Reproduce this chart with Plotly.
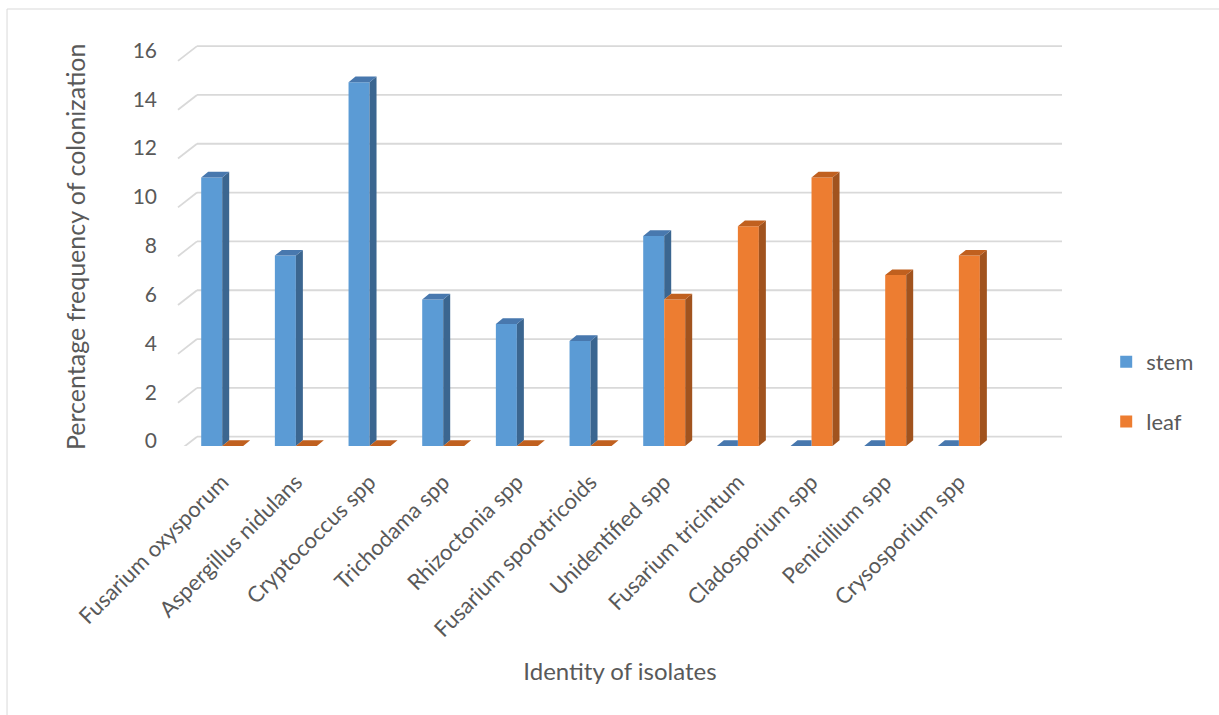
import plotly.graph_objects as go

categories = ["Fusarium oxysporum", "Aspergillus nidulans", "Cryptococcus spp", "Trichodama spp",
              "Rhizoctonia spp", "Fusarium sporotricoids", "Unidentified spp", "Fusarium tricintum",
              "Cladosporium spp", "Penicillium spp", "Crysosporium spp"]
stem = [11, 7.8, 14.9, 6, 5, 4.3, 8.6, 0, 0, 0, 0]
leaf = [0, 0, 0, 0, 0, 0, 6, 9, 11, 7, 7.8]
y_ticks = [0, 2, 4, 6, 8, 10, 12, 14, 16]

# geometry / style constants
W = 0.285    # bar width (category units)
DX = 0.095   # 3D depth offset along x (category units)
DY = 0.233   # 3D depth offset along y (value units)
FONT = "Lato"
TXT = "#595959"
GRID = "#d9d9d9"

STEM_FRONT, STEM_TOP, STEM_SIDE = "#5B9BD5", "#4878AE", "#3B6690"
LEAF_FRONT, LEAF_TOP, LEAF_SIDE = "#ED7D31", "#C0601F", "#A1531E"

pos = list(range(len(categories)))


def add_poly(xs, ys, pts):
    for px, py in pts:
        xs.append(px)
        ys.append(py)
    xs.append(pts[0][0]); ys.append(pts[0][1])
    xs.append(None); ys.append(None)


ss_x, ss_y, st_x, st_y = [], [], [], []
ls_x, ls_y, lt_x, lt_y = [], [], [], []
for c, s, l in zip(pos, stem, leaf):
    # stem side face (clipped where the adjacent leaf bar hides it)
    if s > 0 and s > l:
        add_poly(ss_x, ss_y, [(c, l), (c, s), (c + DX, s + DY), (c + DX, l + DY)])
    # stem top face
    if s == 0 and l > 0:
        add_poly(st_x, st_y, [(c - W, 0), (c, 0), (c, DY), (c - W + DX, DY)])
    else:
        add_poly(st_x, st_y, [(c - W, s), (c, s), (c + DX, s + DY), (c - W + DX, s + DY)])
    # leaf side face
    if l > 0:
        add_poly(ls_x, ls_y, [(c + W, 0), (c + W, l), (c + W + DX, l + DY), (c + W + DX, DY)])
    # leaf top face
    add_poly(lt_x, lt_y, [(c, l), (c + W, l), (c + W + DX, l + DY), (c + DX, l + DY)])

fig = go.Figure()

fig.add_trace(go.Bar(x=pos, y=stem, name="stem", offset=-W, width=W,
                     marker=dict(color=STEM_FRONT, line=dict(width=0)),
                     legendgroup="stem", hovertext=categories))
fig.add_trace(go.Bar(x=pos, y=leaf, name="leaf", offset=0, width=W,
                     marker=dict(color=LEAF_FRONT, line=dict(width=0)),
                     legendgroup="leaf", hovertext=categories))

for xs, ys, col in [(ss_x, ss_y, STEM_SIDE), (st_x, st_y, STEM_TOP),
                    (ls_x, ls_y, LEAF_SIDE), (lt_x, lt_y, LEAF_TOP)]:
    fig.add_trace(go.Scatter(x=xs, y=ys, mode="lines", fill="toself", fillcolor=col,
                             line=dict(width=0, color=col), showlegend=False,
                             hoverinfo="skip"))

# back-wall gridlines with the short perspective segments on the left
shapes = []
for v in y_ticks:
    shapes.append(dict(type="line", xref="paper", yref="y", ysizemode="pixel", yanchor=v,
                       x0=0.0215, x1=1.0, y0=9.3, y1=9.3,
                       line=dict(color=GRID, width=1.8), layer="below"))
    shapes.append(dict(type="line", xref="paper", yref="y", ysizemode="pixel", yanchor=v,
                       x0=0.0, x1=0.0215, y0=-5.5, y1=9.3,
                       line=dict(color=GRID, width=1.8), layer="below"))
# chart-area border
shapes.append(dict(type="rect", xref="paper", yref="paper", x0=-0.1934, x1=1.5, y0=-1.0, y1=1.053,
                   line=dict(color=GRID, width=1), fillcolor="rgba(0,0,0,0)", layer="below"))

fig.update_layout(
    width=1219, height=715,
    margin=dict(l=178, r=157, t=31, b=269),
    paper_bgcolor="white", plot_bgcolor="white",
    barmode="overlay",
    font=dict(family=FONT, color=TXT, size=22),
    shapes=shapes,
    showlegend=True,
    legend=dict(x=1.05, xanchor="left", y=0.13, yanchor="middle",
                traceorder="grouped", tracegroupgap=28,
                font=dict(family=FONT, size=22, color=TXT), bgcolor="rgba(0,0,0,0)"),
    annotations=[dict(text="Percentage frequency of colonization", textangle=-90,
                      xref="paper", yref="paper", x=-0.1165, y=0.4795,
                      xanchor="center", yanchor="middle", showarrow=False,
                      font=dict(size=25, family=FONT, color=TXT))],
    xaxis=dict(range=[-0.6, 11.4], tickvals=pos, ticktext=categories, tickangle=-45,
               showgrid=False, zeroline=False, showline=False, ticks="",
               ticklabelstandoff=18, tickfont=dict(size=22, family=FONT, color=TXT),
               title=dict(text="Identity of isolates", font=dict(size=24, family=FONT, color=TXT),
                          standoff=22)),
    yaxis=dict(range=[0, 17], tickvals=y_ticks, showgrid=False, zeroline=False, showline=False,
               ticks="", ticklabelstandoff=20, ticklabelshift=-5,
               tickfont=dict(size=21, family=FONT, color=TXT)),
)

fig.write_html("out.html")
